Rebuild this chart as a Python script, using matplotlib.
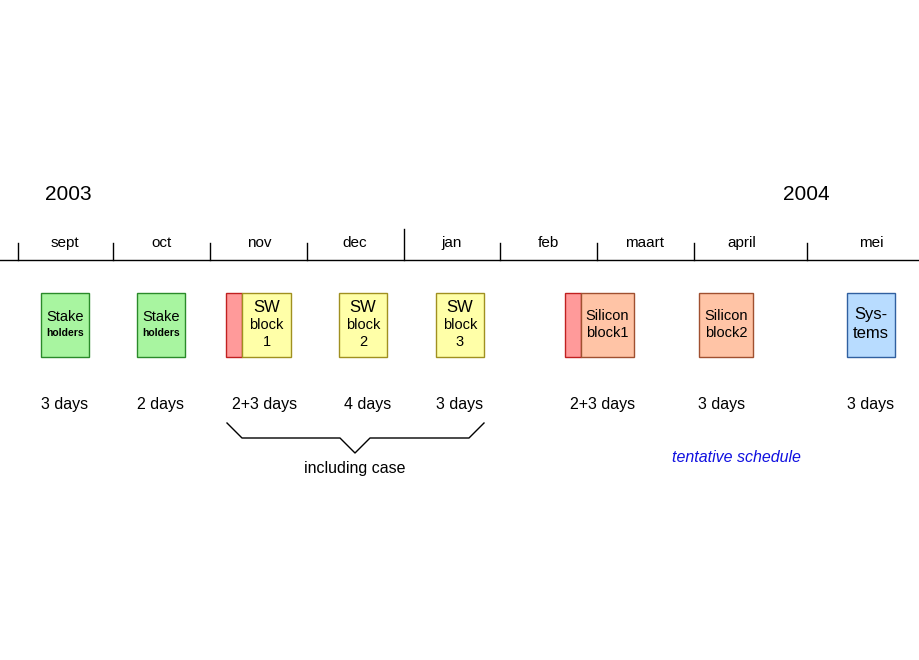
import matplotlib
matplotlib.use("Agg")
import matplotlib.pyplot as plt
from matplotlib.patches import Rectangle
plt.rcParams['font.family'] = ['Liberation Sans', 'DejaVu Sans']

months = ["sept","oct","nov","dec","jan","feb","maart","april","mei"]
month_x = [65,162,259,355,452,548,645,742,871]
tick_x = [18,113,210,307,404,500,597,694,807]
years = ["2003","2004"]; year_x = [68,806]

box_x0 = [41,137,242,339,436,581,699,847]
box_x1 = [89,185,291,387,484,634,753,895]
box_face = ["#a8f5a0","#a8f5a0","#ffffa8","#ffffa8","#ffffa8","#ffc4a6","#ffc4a6","#b8dcff"]
box_edge = ["#2a8a2a","#2a8a2a","#a09020","#a09020","#a09020","#a05030","#a05030","#3060a0"]
pre_x = [None,None,226,None,None,565,None,None]  # red prefix box
durations = ["3 days","2 days","2+3 days","4 days","3 days","2+3 days","3 days","3 days"]
dur_x = [65,161,265,368,460,603,722,871]

fig = plt.figure(figsize=(9.2,6.6), dpi=100)
ax = fig.add_axes([0,0,1,1])
ax.set_xlim(0,920); ax.set_ylim(660,0); ax.axis("off")

ax.plot([0,920],[260,260],color="black",lw=1)
for x in tick_x:
    ax.plot([x,x],[229 if x==404 else 243,260],color="black",lw=1)
for m,x in zip(months,month_x):
    ax.text(x,243,m,ha="center",va="center",fontsize=11)
for y,x in zip(years,year_x):
    ax.text(x,194,y,ha="center",va="center",fontsize=15)

for i,(a,b,fc,ec) in enumerate(zip(box_x0,box_x1,box_face,box_edge)):
    if pre_x[i] is not None:
        ax.add_patch(Rectangle((pre_x[i],293),a-pre_x[i],64,fc="#ff9a9a",ec="#c02020",lw=1))
    ax.add_patch(Rectangle((a,293),b-a,64,fc=fc,ec=ec,lw=1))
    ax.text(dur_x[i],405,durations[i],ha="center",va="center",fontsize=11.5)

def c(i): return (box_x0[i]+box_x1[i])/2
for i in [0,1]:
    ax.text(c(i),317,"Stake",ha="center",va="center",fontsize=10.5)
    ax.text(c(i),333,"holders",ha="center",va="center",fontsize=7.5,fontweight="bold")
for i,n in zip([2,3,4],["1","2","3"]):
    ax.text(c(i),307,"SW",ha="center",va="center",fontsize=12)
    ax.text(c(i),325,"block",ha="center",va="center",fontsize=10.5)
    ax.text(c(i),342,n,ha="center",va="center",fontsize=10.5)
for i,n in zip([5,6],["block1","block2"]):
    ax.text(c(i),316,"Silicon",ha="center",va="center",fontsize=10.5)
    ax.text(c(i),333,n,ha="center",va="center",fontsize=10.5)
ax.text(c(7),315,"Sys-",ha="center",va="center",fontsize=12)
ax.text(c(7),334,"tems",ha="center",va="center",fontsize=12)

bx = [227,242,340,355,370,469,484]; by = [423,438,438,453,438,438,423]
ax.plot(bx,by,color="black",lw=1)
ax.text(355,469,"including case",ha="center",va="center",fontsize=11.5)
ax.text(736,458,"tentative schedule",ha="center",va="center",fontsize=11.5,style="italic",color="#1010e0")

fig.savefig("out.png")
